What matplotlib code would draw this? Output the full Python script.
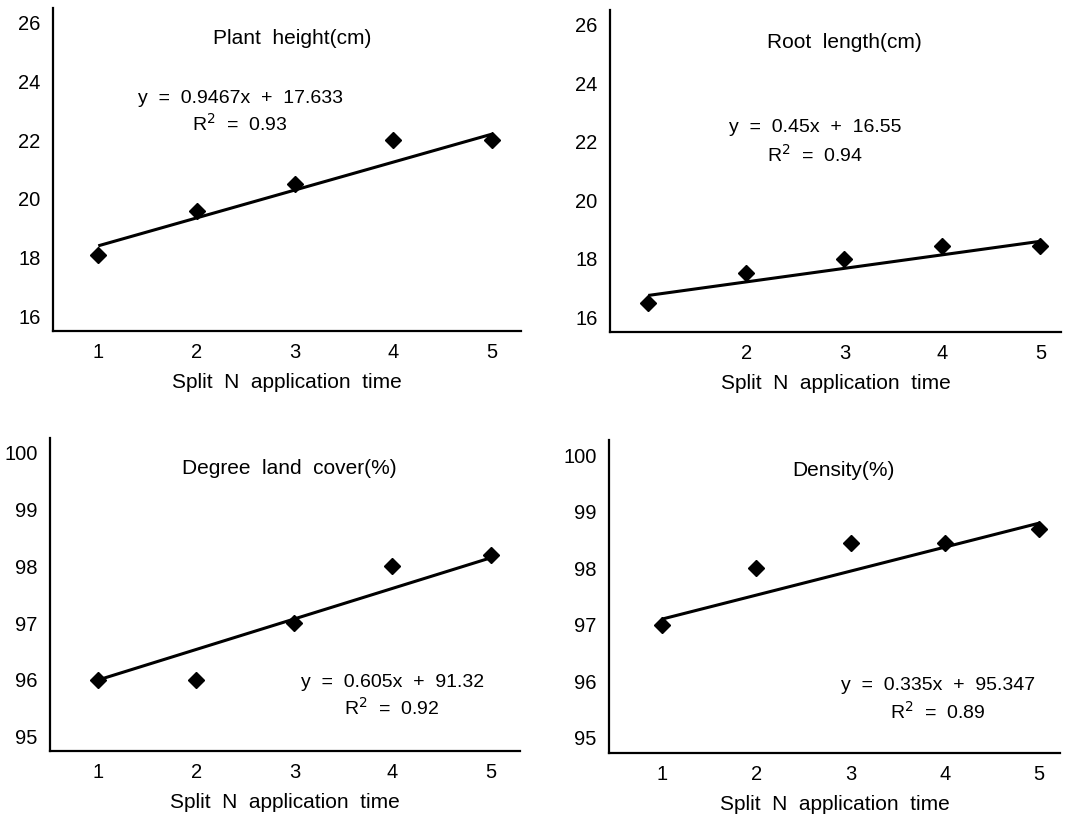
import matplotlib
matplotlib.use("Agg")
import matplotlib.pyplot as plt

plt.rcParams['font.family'] = ['Liberation Sans', 'DejaVu Sans']

x = [1, 2, 3, 4, 5]

plant_height = [18.1, 19.6, 20.5, 22.0, 22.0]
root_length = [16.5, 17.5, 18.0, 18.45, 18.45]
land_cover = [96.0, 96.0, 97.0, 98.0, 98.2]
density = [97.0, 98.0, 98.45, 98.45, 98.7]

# trend lines as drawn in the picture (value at x=1 and x=5)
trend_x = [1, 5]
plant_trend = [18.4, 22.2]
root_trend = [16.75, 18.6]
cover_trend = [96.0, 98.15]
density_trend = [97.1, 98.8]

titles = ["Plant  height(cm)", "Root  length(cm)", "Degree  land  cover(%)", "Density(%)"]
equations = ["y  =  0.9467x  +  17.633", "y  =  0.45x  +  16.55",
             "y  =  0.605x  +  91.32", "y  =  0.335x  +  95.347"]
r2_values = ["0.93", "0.94", "0.92", "0.89"]
xlabel = "Split  N  application  time"

top_yticks = [16, 18, 20, 22, 24, 26]
bot_yticks = [95, 96, 97, 98, 99, 100]

fig = plt.figure(figsize=(10.87, 8.14), dpi=100)

panels = [
    dict(rect=[0.0488, 0.5934, 0.4305, 0.3968], y=plant_height, t=plant_trend,
         ylim=(15.5, 26.5), xlim=(0.54, 5.3), yt=top_yticks, xt=[1, 2, 3, 4, 5],
         title_pos=(0.51, 0.907), eq_pos=(0.40, 0.72), r2_pos=(0.40, 0.64)),
    dict(rect=[0.5612, 0.5921, 0.4149, 0.3956], y=root_length, t=root_trend,
         ylim=(15.5, 26.5), xlim=(0.61, 5.21), yt=top_yticks, xt=[2, 3, 4, 5],
         title_pos=(0.52, 0.90), eq_pos=(0.455, 0.634), r2_pos=(0.455, 0.55)),
    dict(rect=[0.0460, 0.0774, 0.4324, 0.3845], y=land_cover, t=cover_trend,
         ylim=(94.75, 100.26), xlim=(0.51, 5.3), yt=bot_yticks, xt=[1, 2, 3, 4, 5],
         title_pos=(0.51, 0.904), eq_pos=(0.728, 0.22), r2_pos=(0.728, 0.137)),
    dict(rect=[0.5603, 0.0749, 0.4149, 0.3845], y=density, t=density_trend,
         ylim=(94.73, 100.27), xlim=(0.44, 5.22), yt=bot_yticks, xt=[1, 2, 3, 4, 5],
         title_pos=(0.52, 0.904), eq_pos=(0.73, 0.217), r2_pos=(0.73, 0.13)),
]

for i, p in enumerate(panels):
    ax = fig.add_axes(p['rect'])
    ax.plot(trend_x, p['t'], color='black', lw=2.2, solid_capstyle='butt', zorder=2)
    ax.plot(x, p['y'], linestyle='none', marker='D', markersize=8,
            color='black', zorder=3)
    ax.set_xlim(*p['xlim'])
    ax.set_ylim(*p['ylim'])
    ax.set_xticks(p['xt'])
    ax.set_yticks(p['yt'])
    for s in ['top', 'right']:
        ax.spines[s].set_visible(False)
    for s in ['left', 'bottom']:
        ax.spines[s].set_linewidth(1.6)
    ax.tick_params(axis='both', length=0, labelsize=14.5)
    ax.tick_params(axis='x', pad=8.5)
    ax.tick_params(axis='y', pad=9)
    ax.set_xlabel(xlabel, fontsize=15, labelpad=8)
    ax.text(*p['title_pos'], titles[i], transform=ax.transAxes,
            ha='center', va='center', fontsize=15)
    ax.text(*p['eq_pos'], equations[i], transform=ax.transAxes,
            ha='center', va='center', fontsize=14)
    ax.text(*p['r2_pos'], r"R$^2$  =  " + r2_values[i], transform=ax.transAxes,
            ha='center', va='center', fontsize=14)

fig.savefig("out.png", dpi=100)
